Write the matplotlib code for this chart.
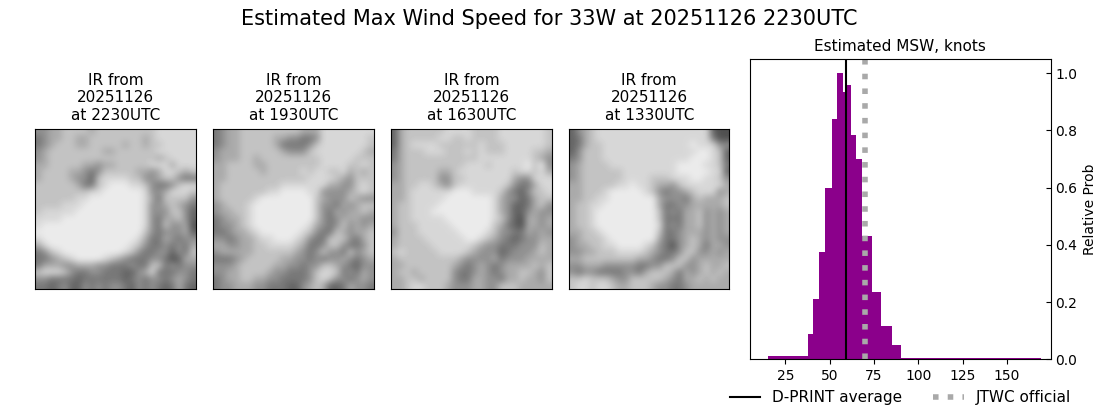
import numpy as np
import matplotlib
matplotlib.use("Agg")
import matplotlib.pyplot as plt

# Histogram of estimated MSW
bin_edges = [15.4, 38, 40.8, 44.2, 47.6, 51.5, 54.3, 57.2, 60, 62.2, 65, 68.4, 74, 79.1, 85.3, 90.4, 169.4]
rel_prob = [0.012, 0.089, 0.211, 0.375, 0.6, 0.84, 1.0, 0.935, 0.96, 0.784, 0.70, 0.431, 0.235, 0.117, 0.05, 0.005]
dprint_avg = 59.1
jtwc_official = 70

# IR panels, coarse brightness (0 dark - 9 bright)
gray_levels = [40, 60, 80, 100, 120, 145, 170, 195, 215, 235]
times = ["2230", "1930", "1630", "1330"]
ir_2230 = [
    "556677776777777777888888",
    "456677667777777767888888",
    "456777667777767767788888",
    "567777777766777777888888",
    "567777777777777777678888",
    "667777766566777778886888",
    "677776654577777665688767",
    "677776553788887755677544",
    "777777644789998875445788",
    "777777778899999985568887",
    "777777889999999986477775",
    "777788899999999985567654",
    "788888999999999985557753",
    "888899999999999985466753",
    "899999999999999985475562",
    "999999999999999975455563",
    "899999999999999864465455",
    "689999999999998754454546",
    "457899999999987544553547",
    "445678999987654445542366",
    "466655666554445447745455",
    "788875445544433568444554",
    "554444344444434545545654",
    "443453354545543545434643",
]
ir_1930 = [
    "456677777777766688888888",
    "456677777665544588888887",
    "456677777644445788888887",
    "566677777765557888888876",
    "566677677777777788888777",
    "667777667777777788887787",
    "667777767777787887786767",
    "667777777777778888765777",
    "677777777788888886655787",
    "677777778899998855556787",
    "677777899999999765557655",
    "567778999999999755465677",
    "566778999999999754656676",
    "456678999999999754566655",
    "455678999999998654575656",
    "445667899999987544765667",
    "554566788999875447775467",
    "665566778888764457754457",
    "566666777777654575547567",
    "444567777766554545565456",
    "555677777665545577654355",
    "556677776554445788745465",
    "456677665544445787554565",
    "455666554443356763346554",
]
ir_1630 = [
    "367777778888777788888887",
    "367777788778777788888887",
    "367888877777787778888887",
    "467778887778787778888776",
    "467777777777788888888765",
    "567777777778887888889795",
    "567777766788888888788786",
    "567777755778888888655888",
    "667788765788888887544688",
    "667888888999888875435778",
    "667888889999999865534677",
    "677888899999999865334675",
    "677888999999999865335655",
    "677888889999999875326656",
    "677788888999999764326656",
    "577788888899998755446565",
    "677778888889987654345566",
    "677777888888765544455576",
    "787777788887655534555676",
    "677777777765555645556666",
    "667777777654565456666767",
    "677677777544565456677657",
    "667767777544665546676657",
    "667887776555665577766666",
]
ir_1330 = [
    "356788888888888888888322",
    "346788888888888888888422",
    "346778888888888888988855",
    "357778888888888888899873",
    "457778888888888888999873",
    "567777888888888899998874",
    "567777778888888899999883",
    "567777778888777888998875",
    "667777788988766578888886",
    "667778999998754556788856",
    "667788999999965554676667",
    "677889999999964455666667",
    "677899999999974546675656",
    "677899999999974446675656",
    "677899999999984546675656",
    "667789999999974456665656",
    "567778999999964456765655",
    "566778899998754256764665",
    "556677788887654457755656",
    "667777777766544577566666",
    "556665555544557775567667",
    "545544445546777646567676",
    "778777655777776546676766",
    "788788766777655445666666",
]
panels = [ir_2230, ir_1930, ir_1630, ir_1330]
panel_left = [35.4, 213.3, 391.3, 569.2]

W, H = 1100.0, 409.0
fig = plt.figure(figsize=(11, 4.09), dpi=100)
fig.suptitle("Estimated Max Wind Speed for 33W at 20251126 2230UTC", fontsize=15, x=0.4995, y=0.978)

for left, t, rows in zip(panel_left, times, panels):
    ax = fig.add_axes([left / W, (H - 289.3) / H, 160.2 / W, 160.2 / H])
    img = np.array([[gray_levels[int(c)] for c in r] for r in rows], dtype=float)
    ax.imshow(img, cmap="gray", vmin=0, vmax=255, interpolation="bicubic", aspect="auto")
    ax.set_xticks([])
    ax.set_yticks([])
    ax.set_title("IR from\n20251126\nat " + t + "UTC", fontsize=11, pad=6.7)

ax = fig.add_axes([750.3 / W, (H - 359.4) / H, 300.2 / W, 300.2 / H])
edges = np.array(bin_edges)
ax.bar(edges[:-1], rel_prob, width=np.diff(edges), align="edge", color="darkmagenta")
l1 = ax.axvline(dprint_avg, color="k", lw=1.5, label="D-PRINT average")
l2 = ax.axvline(jtwc_official, color="darkgray", lw=4, ls=":", label="JTWC official")
ax.set_xlim(5.2, 174.5)
ax.set_ylim(0, 1.049)
ax.set_xticks([25, 50, 75, 100, 125, 150])
ax.yaxis.tick_right()
ax.yaxis.set_label_position("right")
ax.tick_params(axis="y", direction="in")
ax.set_ylabel("Relative Prob")
ax.set_title("Estimated MSW, knots", fontsize=11)
fig.legend(handles=[l1, l2], ncol=2, frameon=False, fontsize=11, loc="center right",
           bbox_to_anchor=(1071 / W, (H - 397.5) / H), columnspacing=2.0, borderaxespad=0, borderpad=0)

fig.savefig("out.png", dpi=100)
